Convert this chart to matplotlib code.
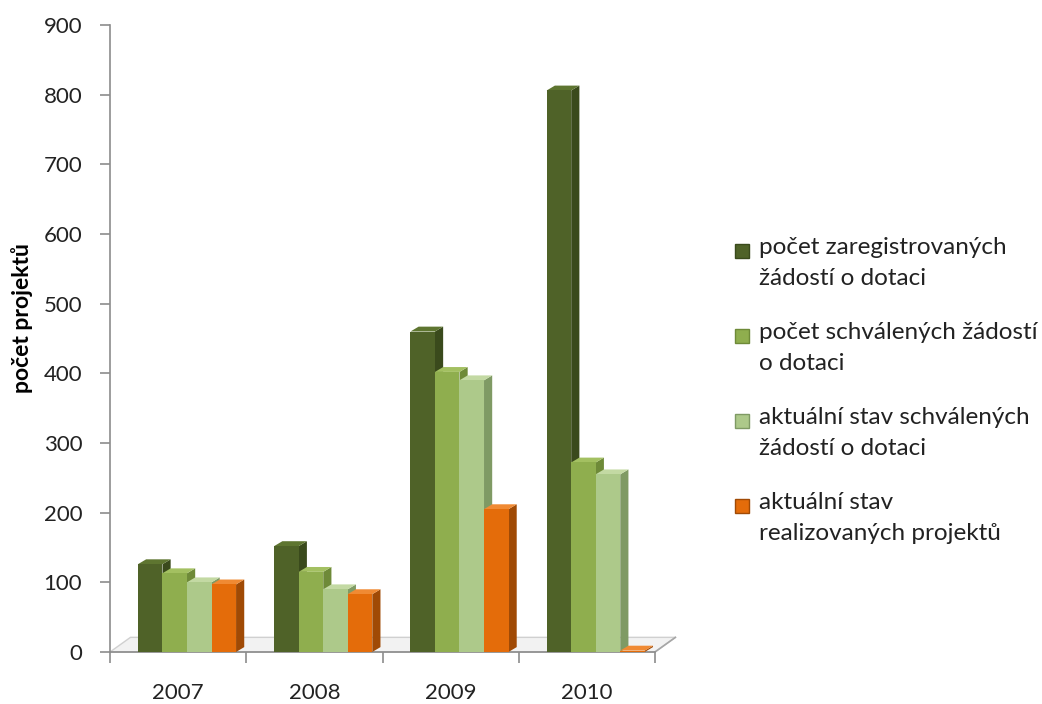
import numpy as np
import matplotlib.pyplot as plt
from matplotlib.patches import Patch, Polygon, Rectangle
from matplotlib.legend_handler import HandlerBase

plt.rcParams['font.family'] = ['Lato', 'DejaVu Sans']

years = ['2007', '2008', '2009', '2010']
series = ['počet zaregistrovaných\nžádostí o dotaci',
          'počet schválených žádostí\no dotaci',
          'aktuální stav schválených\nžádostí o dotaci',
          'aktuální stav\nrealizovaných projektů']
registered = [126, 152, 460, 806]
approved = [113, 115, 402, 272]
approved_now = [100, 90, 390, 255]
realized = [97, 83, 205, 2]

front = ['#4f6228', '#8fae4e', '#adc98a', '#e46c0a']
side = ['#3a4a1c', '#6e8a38', '#7f9a64', '#a04a05']
top = ['#5e7530', '#a3c061', '#c3d9a3', '#f08a33']


class TopSquare(HandlerBase):
    # square marker level with the first text line
    def create_artists(self, legend, orig, xdescent, ydescent, width, height,
                       fontsize, trans):
        s = 0.6 * fontsize
        r = Rectangle((-xdescent, -ydescent + height - s), s, s,
                      facecolor=orig.get_facecolor(), edgecolor=orig.get_edgecolor(),
                      lw=1, transform=trans)
        return [r]


fig = plt.figure(figsize=(10.42, 7.04), dpi=100)
ax = fig.add_axes([0.1056, 0.0739, 0.523, 0.8906])

w = 0.18
dx, dy = 0.06, 7
shift = 0.065
x = np.arange(len(years))

# floor
fl = Polygon([(-0.5, 0), (3.5, 0), (3.5 + 0.15, 21), (-0.5 + 0.15, 21)],
             closed=True, facecolor='#f2f2f2', edgecolor='#d0d0d0', lw=1.0,
             clip_on=False, zorder=1)
ax.add_patch(fl)
ax.plot([3.5, 3.65], [0, 21], color='#a6a6a6', lw=1.2, clip_on=False, zorder=2)

data = [registered, approved, approved_now, realized]
z = 3
for i in range(len(years)):
    for k, vals in enumerate(data):
        v = vals[i]
        xc = x[i] + shift + (k - 1.5) * w
        l, r = xc - w / 2, xc + w / 2
        ax.add_patch(Polygon([(r, 0), (r + dx, dy), (r + dx, v + dy), (r, v)],
                             closed=True, facecolor=side[k], edgecolor='none', zorder=z))
        ax.add_patch(Polygon([(l, v), (l + dx, v + dy), (r + dx, v + dy), (r, v)],
                             closed=True, facecolor=top[k], edgecolor='none', zorder=z))
        ax.bar(xc, v, width=w, color=front[k], edgecolor='none', zorder=z + 1)
        z += 2

ax.set_xlim(-0.5, 3.5)
ax.set_ylim(0, 900)
ax.set_yticks(np.arange(0, 901, 100))
ax.set_xticks(x)
ax.set_xticklabels(years)
ax.set_xticks(np.arange(-0.5, 3.6, 1), minor=True)
ax.tick_params(axis='x', which='major', length=0, pad=22, labelsize=16, labelcolor='#222222')
ax.tick_params(axis='x', which='minor', length=8, color='#8c8c8c', width=1.2)
ax.tick_params(axis='y', length=7, color='#8c8c8c', width=1.2, labelsize=16,
               labelcolor='#222222', pad=13)
for s in ['top', 'right']:
    ax.spines[s].set_visible(False)
for s in ['left', 'bottom']:
    ax.spines[s].set_color('#8c8c8c')
    ax.spines[s].set_linewidth(1.2)

ax.set_ylabel('počet projektů', fontsize=16.5, fontweight='bold')
ax.yaxis.set_label_coords(-0.142, 0.533)

handles = [Patch(facecolor=front[k], edgecolor=side[k]) for k in range(4)]
leg = fig.legend(handles, series, loc='center left', bbox_to_anchor=(0.684, 0.445),
                 frameon=False, fontsize=17.5, labelspacing=1.35, handlelength=0.6,
                 handleheight=2.2, handletextpad=0.4,
                 handler_map={Patch: TopSquare()})
for t in leg.get_texts():
    t.set_linespacing(1.6)
    t.set_color('#222222')

fig.savefig('out.png', dpi=100, facecolor='white')
